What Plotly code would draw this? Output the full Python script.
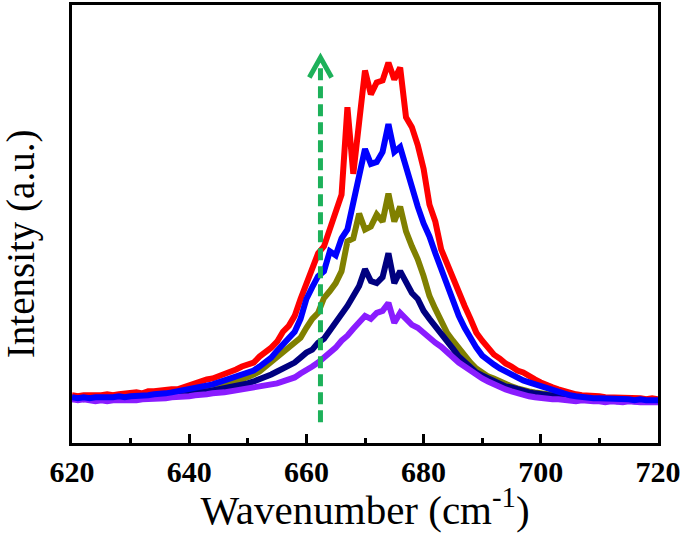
import plotly.graph_objects as go

wavenumber = list(range(620, 721))

red = [48,47,48,48,47,48,49,48,49,50,
       50,51,50,52,52,53,53,54,54,56,
       59,60,62,64,65,67,70,71,74,77,
       79,81,87,91,96,102,112,118,128,145,
       161,173,191,198,215,232,250,338,271,323,
       375,351,363,365,383,366,378,328,318,300,
       276,240,223,195,180,168,153,138,125,111,
       103,95,89,85,80,77,73,71,67,64,
       61,58,56,54,52,51,49,48,48,47,
       47,46,46,46,45,46,45,45,44,45,
       44]

blue = [46,45,46,45,46,46,45,46,47,46,
        47,47,48,48,49,49,50,51,52,53,
        54,55,57,58,59,61,63,65,66,68,
        70,73,77,81,86,93,99,105,112,125,
        145,157,168,173,193,189,206,215,240,270,
        296,281,283,293,321,293,298,278,255,238,
        221,208,191,175,158,143,128,116,105,96,
        88,83,79,75,72,69,65,63,61,59,
        57,55,53,51,49,48,47,46,46,45,
        45,45,45,44,44,44,43,44,43,43,
        43]

olive = [45,44,45,44,45,44,45,44,45,45,
         46,46,46,47,47,48,48,49,49,50,
         51,52,53,54,55,57,59,60,62,64,
         66,69,72,77,81,86,91,96,101,106,
         116,125,131,146,153,161,173,203,206,231,
         215,218,230,223,251,223,238,213,198,185,
         168,148,135,123,111,103,95,88,81,75,
         71,67,65,62,59,57,55,53,52,51,
         50,49,48,47,46,46,45,45,45,44,
         44,44,43,44,43,43,43,43,42,43,
         42]

navy = [44,45,44,45,44,45,44,45,45,45,
        45,46,46,46,47,47,48,48,49,49,
        50,51,51,52,53,54,55,56,57,58,
        60,62,64,67,69,72,75,77,81,86,
        91,94,101,105,113,121,128,138,148,158,
        175,163,161,167,191,161,173,161,151,145,
        133,125,118,109,103,95,87,81,75,71,
        68,65,62,60,57,56,54,52,51,50,
        49,48,47,46,45,45,45,44,44,44,
        43,43,43,42,43,42,42,42,42,42,
        42]

purple = [44,43,44,43,42,43,42,43,43,42,
          43,43,44,44,45,44,45,46,46,47,
          47,48,48,49,50,50,51,52,53,53,
          54,55,56,58,59,60,62,64,66,70,
          73,77,81,86,91,96,103,108,115,121,
          128,125,131,133,141,121,131,125,119,116,
          111,105,101,97,91,87,81,77,73,68,
          65,62,59,56,54,52,50,49,47,46,
          45,45,44,44,43,43,42,43,42,42,
          42,41,42,41,41,42,41,41,41,41,
          41]

series = [
    ("red", red, "#ff0000"),
    ("olive", olive, "#808000"),
    ("navy", navy, "#000080"),
    ("purple", purple, "#8a1cff"),
    ("blue", blue, "#0000ff"),
]

# arrow (annotation decoration)
arrow_x = 662.4
arrow_y0, arrow_y1 = 21, 384

fig = go.Figure()
for name, vals, col in series:
    fig.add_trace(go.Scatter(x=wavenumber, y=vals, mode="lines", name=name,
                             line=dict(color=col, width=6), showlegend=False))

green = "#1db15a"
fig.add_shape(type="line", x0=arrow_x, x1=arrow_x, y0=arrow_y0, y1=arrow_y1,
              line=dict(color=green, width=5, dash="12px,6px"))
fig.add_shape(type="path",
              path=f"M {arrow_x-1.9},{arrow_y1-16} L {arrow_x},{arrow_y1+4} L {arrow_x+1.9},{arrow_y1-16}",
              line=dict(color=green, width=5))

serif = "Liberation Serif, Times New Roman, serif"
fig.add_annotation(text="Intensity (a.u.)", textangle=-90, xref="paper", yref="paper",
                   x=-0.088, y=0.455, xanchor="center", yanchor="middle", showarrow=False,
                   font=dict(family=serif, size=39, color="black"))

fig.update_layout(
    width=685, height=533,
    margin=dict(l=72, r=27, t=2, b=90),
    plot_bgcolor="white", paper_bgcolor="white",
    xaxis=dict(range=[620, 720], dtick=20, tick0=620, ticks="inside", ticklen=9, tickwidth=2.5,
               tickcolor="black",
               minor=dict(dtick=10, ticks="inside", ticklen=5, tickwidth=2.5, tickcolor="black"),
               showline=True, linecolor="black", linewidth=3, mirror=True,
               showgrid=False, zeroline=False,
               tickfont=dict(family=serif, size=30, color="black", weight="bold"),
               title=dict(text="Wavenumber (cm<sup>-1</sup>)", font=dict(family=serif, size=41, color="black"),
                          standoff=4)),
    yaxis=dict(range=[0, 441], showticklabels=False, ticks="", showline=True, linecolor="black",
               linewidth=3, mirror=True, showgrid=False, zeroline=False),
)

fig.write_html("out.html", post_script="document.body.style.margin='0';",
               config={"displayModeBar": False})
